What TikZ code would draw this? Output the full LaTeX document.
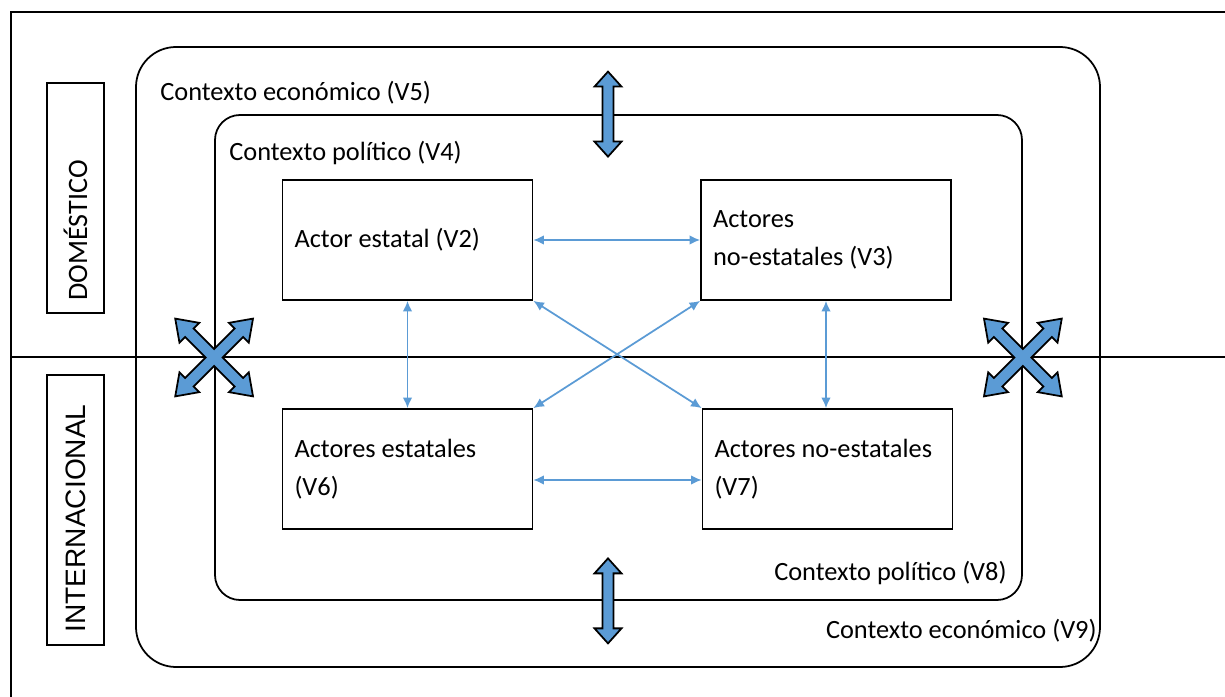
\documentclass[tikz,border=0pt]{standalone}
\usepackage{fontspec}
\setmainfont{Carlito}
\newfontfamily\arialfont{Liberation Sans}
\usepackage{xcolor}
\usepackage{tikz}
\usetikzlibrary{positioning,arrows.meta,calc}
\definecolor{arrowblue}{HTML}{5B9BD5}
\tikzset{
  ctxbox/.style={draw, line width=1pt, inner sep=0pt},
  actorbox/.style={draw, line width=1pt, fill=white, minimum height=2.4cm, text width=4.52cm, inner xsep=0.24cm, align=flush left},
  sidebox/.style={draw, line width=1pt, rotate=90, minimum height=1.14cm, inner xsep=0.25cm, align=flush left, font=\fontsize{16}{19}\selectfont},
  link/.style={arrowblue, line width=1pt, {Latex[length=6pt,width=5.5pt]}-{Latex[length=6pt,width=5.5pt]}},
  blockarrow/.style={draw=black, line width=1pt, fill=arrowblue, line join=miter},
  vbiarrow/.pic={
    \path[blockarrow] (0,0.85) -- (0.27,0.55) -- (0.11,0.55) -- (0.11,-0.55) -- (0.27,-0.55) -- (0,-0.85)
      -- (-0.27,-0.55) -- (-0.11,-0.55) -- (-0.11,0.55) -- (-0.27,0.55) -- cycle;
  },
  crossarrow/.pic={
    \path[blockarrow, rotate=45] (1.1,0) -- (0.7,0.28) -- (0.7,0.12) -- (0.12,0.12) -- (0.12,0.7) -- (0.28,0.7)
      -- (0,1.1) -- (-0.28,0.7) -- (-0.12,0.7) -- (-0.12,0.12) -- (-0.7,0.12) -- (-0.7,0.28)
      -- (-1.1,0) -- (-0.7,-0.28) -- (-0.7,-0.12) -- (-0.12,-0.12) -- (-0.12,-0.7) -- (-0.28,-0.7)
      -- (0,-1.1) -- (0.28,-0.7) -- (0.12,-0.7) -- (0.12,-0.12) -- (0.7,-0.12) -- (0.7,-0.28) -- cycle;
  }
}

\begin{document}
\begin{tikzpicture}[font=\fontsize{15}{21.5}\selectfont]
\useasboundingbox (0,0) rectangle (24.5,13.94);
% frame and divider
\draw[line width=1.2pt] (0.22,0) -- (0.22,13.70) -- (24.5,13.70);
\draw[line width=1pt] (0.22,6.80) -- (24.5,6.80);
% side labels
\node[sidebox, text width=4.1cm] (dom) at (1.51,9.98) {DOMÉSTICO};
\node[sidebox, text width=4.9cm, font=\fontsize{16}{19}\selectfont\arialfont] (intl) at (1.51,3.74) {INTERNACIONAL};
% contexts
\node[ctxbox, rounded corners=0.8cm, minimum width=19.28cm, minimum height=12.4cm] (econ) at (12.36,6.80) {};
\node[ctxbox, rounded corners=0.5cm, minimum width=16.14cm, minimum height=9.7cm] (pol) at (12.37,6.79) {};
\node[anchor=west, inner sep=0] (v5) at (3.2,12.08) {Contexto económico (V5)};
\node[anchor=west, inner sep=0] (v4) at (4.58,10.88) {Contexto político (V4)};
\node[anchor=east, inner sep=0] (v8) at (20.14,2.48) {Contexto político (V8)};
\node[anchor=east, inner sep=0] (v9) at (21.94,1.32) {Contexto económico (V9)};
% actors
\node[actorbox] (v2) at (8.15,9.14) {Actor estatal (V2)};
\node[actorbox] (v3) at (16.52,9.14) {Actores\\no-estatales (V3)};
\node[actorbox] (v6) at (8.15,4.56) {Actores estatales\\(V6)};
\node[actorbox] (v7) at (16.55,4.56) {Actores no-estatales\\(V7)};
% links
\draw[link] (v2) -- (v3);
\draw[link] ([yshift=-0.22cm]v6.east) -- ([yshift=-0.22cm]v7.west);
\draw[link] (v2) -- (v6);
\draw[link] (v3.south) -- (v3.south |- v7.north);
\draw[link] (v2.south east) -- (v7.north west);
\draw[link] (v3.south west) -- (v6.north east);
% block arrows
\pic at ($(pol.north)+(-0.21,0)$) {vbiarrow};
\pic at ($(pol.south)+(-0.21,0)$) {vbiarrow};
\pic at (pol.west) {crossarrow};
\pic at (pol.east) {crossarrow};
\end{tikzpicture}
\end{document}
